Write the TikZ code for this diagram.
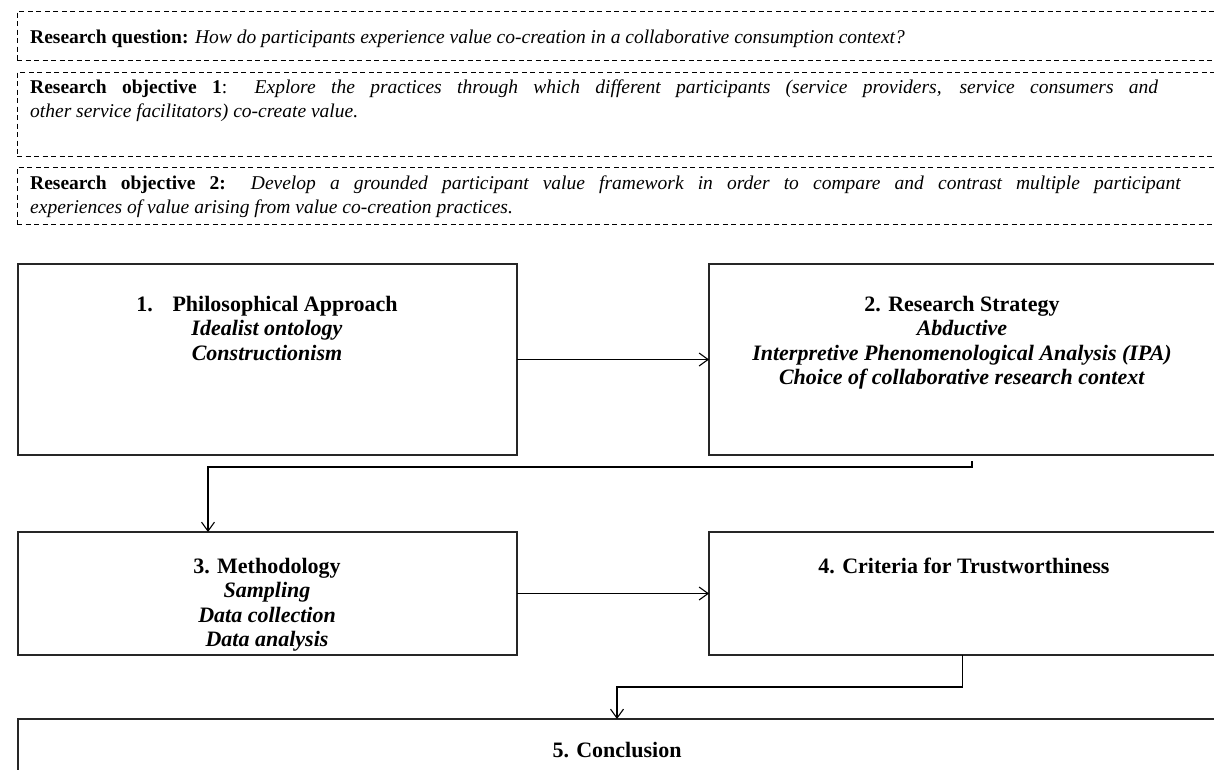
\documentclass[tikz,border=0pt]{standalone}
\usepackage{fontspec}
\setmainfont{Liberation Serif}
\usetikzlibrary{arrows.meta}
\begin{document}
\begin{tikzpicture}[x=1pt,y=-1pt,
  dbox/.style={draw=black, line width=1pt, dash pattern=on 5pt off 3.5pt,
    inner sep=0, outer sep=0, anchor=north west},
  sbox/.style={draw=black!85, line width=1.5pt, inner sep=0, outer sep=0,
    anchor=north west},
  qtext/.style={inner sep=0, anchor=base west, font=\fontsize{19.5}{24}\selectfont},
  head/.style={inner sep=0, anchor=north, align=center,
    font=\fontsize{22}{24.5}\selectfont},
  link/.style={draw=black, line width=1.1pt},
  arr/.style={link, -{Straight Barb[length=9pt,width=13pt]}}
]
\useasboundingbox (0,0) rectangle (1214,769);

% research question and objectives (dashed frames)
\node[dbox, minimum width=1220pt, minimum height=49pt] (rq) at (17,11) {};
\node[dbox, minimum width=1220pt, minimum height=84pt] (ro1) at (17,72) {};
\node[dbox, minimum width=1220pt, minimum height=57pt] (ro2) at (17,167) {};

\node[qtext] (rqt) at (30,43) {\textbf{Research question:} \textit{How do participants experience value co-creation in a collaborative consumption context?}};
\node[qtext] (ro1a) at (30,93) {\makebox[1128pt][s]{\textbf{Research objective 1}: \textit{Explore the practices through which different participants (service providers, service consumers and}}};
\node[qtext] (ro1b) at (30,117) {\textit{other service facilitators) co-create value.}};
\node[qtext] (ro2a) at (30,189) {\makebox[1151pt][s]{\textbf{Research objective 2:} \textit{Develop a grounded participant value framework in order to compare and contrast multiple participant}}};
\node[qtext] (ro2b) at (30,213) {\textit{experiences of value arising from value co-creation practices.}};

% stage boxes
\node[sbox, minimum width=499pt, minimum height=191pt] (A) at (18,264) {};
\node[sbox, minimum width=510pt, minimum height=191pt] (B) at (709,264) {};
\node[sbox, minimum width=499pt, minimum height=123pt] (C) at (18,532) {};
\node[sbox, minimum width=507pt, minimum height=123pt] (D) at (709,532) {};
\node[sbox, minimum width=1198pt, minimum height=120pt] (E) at (18,719) {};

\node[head] (At) at (267,296) {\textbf{1.\hspace{0.9em}Philosophical Approach}\\
  \textbf{\textit{Idealist ontology}}\\ \textbf{\textit{Constructionism}}};
\node[head] (Bt) at (962,296) {\textbf{2. Research Strategy}\\
  \textbf{\textit{Abductive}}\\
  \textbf{\textit{Interpretive Phenomenological Analysis (IPA)}}\\
  \textbf{\textit{Choice of collaborative research context}}};
\node[head] (Ct) at (267,558) {\textbf{3. Methodology}\\
  \textbf{\textit{Sampling}}\\ \textbf{\textit{Data collection}}\\
  \textbf{\textit{Data analysis}}};
\node[head] (Dt) at (964,558) {\textbf{4. Criteria for Trustworthiness}};
\node[head] (Et) at (617,742) {\textbf{5. Conclusion}};

% connectors
\draw[arr] (A.east) -- (B.west);
\draw[arr] (C.east) -- (D.west);
\coordinate (bout) at (972,461);
\coordinate (bturn) at (972,467);
\coordinate (cin) at (208,532);
\draw[arr] (bout) -- (bturn) -| (cin);
\draw[arr] (D.south) -- ++(0,32) -| (E.north);
\end{tikzpicture}
\end{document}
